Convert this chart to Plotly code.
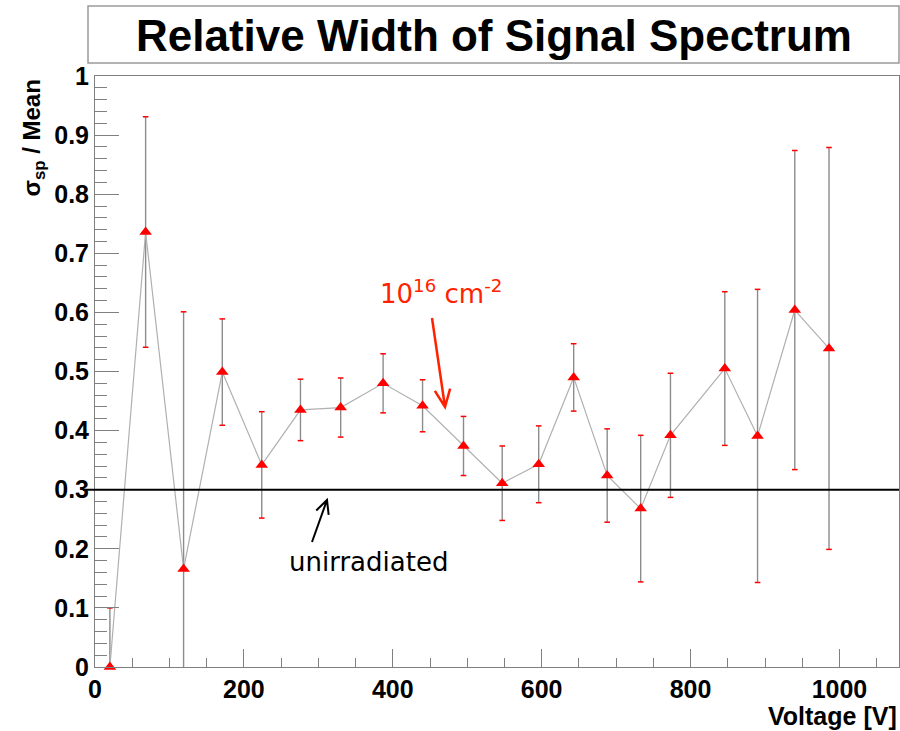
import math
import plotly.graph_objects as go

# ---------------- data ----------------
voltage = [20, 68, 119, 171, 224, 276, 330, 387, 440, 495, 547, 596, 643, 688, 733, 773, 846, 890, 940, 986]
rel_width = [0.0, 0.736, 0.166, 0.499, 0.342, 0.435, 0.439, 0.480, 0.442, 0.374,
             0.311, 0.343, 0.490, 0.324, 0.268, 0.392, 0.505, 0.391, 0.604, 0.539]
rel_err = [0.10, 0.195, 0.435, 0.090, 0.090, 0.052, 0.050, 0.050, 0.044, 0.050,
           0.063, 0.065, 0.057, 0.079, 0.124, 0.105, 0.130, 0.248, 0.270, 0.340]
unirradiated_level = 0.3

x_ticks = [0, 200, 400, 600, 800, 1000]
y_ticks = [0, 0.1, 0.2, 0.3, 0.4, 0.5, 0.6, 0.7, 0.8, 0.9, 1]
y_tick_text = ["0", "0.1", "0.2", "0.3", "0.4", "0.5", "0.6", "0.7", "0.8", "0.9", "1"]

# ---------------- layout geometry ----------------
W, H = 900, 731
ML, MR, MT, MB = 95, 1, 76, 64
PW, PH = W - ML - MR, H - MT - MB
XR = [0, 1080]
YR = [0, 1]


def px2x(px):
    return (px - ML) / PW * (XR[1] - XR[0]) + XR[0]


def py2y(py):
    return (MT + PH - py) / PH * (YR[1] - YR[0]) + YR[0]


def arrow_path(tail, tip, wing=18, ang=24):
    (x0, y0), (x1, y1) = tail, tip
    dx, dy = x0 - x1, y0 - y1
    L = math.hypot(dx, dy)
    ux, uy = dx / L, dy / L
    pts = []
    for s in (-1, 1):
        a = math.radians(ang) * s
        wx = ux * math.cos(a) - uy * math.sin(a)
        wy = ux * math.sin(a) + uy * math.cos(a)
        pts.append((x1 + wx * wing, y1 + wy * wing))

    def P(p):
        return f"{px2x(p[0])},{py2y(p[1])}"
    return f"M {P(tail)} L {P(tip)} M {P(pts[0])} L {P(tip)} L {P(pts[1])}"


fig = go.Figure()

# connecting line + error bars
fig.add_trace(go.Scatter(
    x=voltage, y=rel_width, mode="lines",
    line=dict(color="#b0b0b0", width=1.2),
    error_y=dict(type="data", array=rel_err, visible=True, color="#8c8c8c",
                 thickness=1.4, width=0),
    showlegend=False, hoverinfo="skip"))

# red caps of error bars
cap_x = voltage + voltage
cap_y = [v + e for v, e in zip(rel_width, rel_err)] + [v - e for v, e in zip(rel_width, rel_err)]
fig.add_trace(go.Scatter(
    x=cap_x, y=cap_y, mode="markers",
    marker=dict(symbol="line-ew", size=4, line=dict(color="red", width=1.5)),
    showlegend=False, hoverinfo="skip"))

# markers
fig.add_trace(go.Scatter(
    x=voltage, y=rel_width, mode="markers",
    marker=dict(symbol="triangle-up", size=11, color="red", line=dict(width=0)),
    showlegend=False, cliponaxis=False))

FAM = "Liberation Sans, Arial, sans-serif"
tick_font = dict(family=FAM, size=25, color="black", weight="bold")

fig.update_layout(
    width=W, height=H,
    margin=dict(l=ML, r=MR, t=MT, b=MB, pad=0),
    paper_bgcolor="white", plot_bgcolor="white",
    xaxis=dict(range=XR, tickvals=x_ticks, ticktext=[str(v) for v in x_ticks],
               ticks="inside", ticklen=18, tickwidth=1, tickcolor="#808080",
               minor=dict(dtick=50, ticks="inside", ticklen=9, tickcolor="#808080", tickwidth=1),
               showline=True, linecolor="#808080", linewidth=1, mirror=True,
               showgrid=False, zeroline=False, tickfont=tick_font),
    yaxis=dict(range=YR, tickvals=y_ticks, ticktext=y_tick_text,
               ticks="inside", ticklen=24, tickwidth=1, tickcolor="#808080",
               minor=dict(dtick=0.02, ticks="inside", ticklen=12, tickcolor="#808080", tickwidth=1),
               showline=True, linecolor="#808080", linewidth=1, mirror=True,
               showgrid=False, zeroline=False, tickfont=tick_font),
)

shapes = []
# title box
shapes.append(dict(type="rect", xref="paper", yref="paper",
                   x0=(88 - ML) / PW, x1=(899 - ML) / PW,
                   y0=(MT + PH - 63) / PH, y1=(MT + PH - 6) / PH,
                   line=dict(color="#9a9a9a", width=1.5), fillcolor="white", layer="above"))
# unirradiated level
shapes.append(dict(type="line", xref="paper", yref="y", x0=-12 / PW, x1=1,
                   y0=unirradiated_level, y1=unirradiated_level,
                   line=dict(color="black", width=2)))
# arrows
shapes.append(dict(type="path", xref="x", yref="y",
                   path=arrow_path((432, 318), (445, 407), wing=19, ang=24),
                   line=dict(color="#ff2200", width=2.5)))
shapes.append(dict(type="path", xref="x", yref="y",
                   path=arrow_path((312, 542), (327, 500), wing=15, ang=26),
                   line=dict(color="black", width=2)))
fig.update_layout(shapes=shapes)

ann = []
ann.append(dict(text="<b>Relative Width of Signal Spectrum</b>", xref="paper", yref="paper",
                x=(494 - ML) / PW, y=(MT + PH - 36) / PH, xanchor="center", yanchor="middle",
                showarrow=False, font=dict(family=FAM, size=44, color="black")))
ann.append(dict(text="<b>σ<sub>sp</sub> / Mean</b>", xref="paper", yref="paper",
                x=(33 - ML) / PW, y=(MT + PH - 78) / PH, xanchor="center", yanchor="top", textangle=-90,
                showarrow=False, font=dict(family=FAM, size=24, color="black")))
ann.append(dict(text="<b>Voltage [V]</b>", xref="paper", yref="paper",
                x=1.0, y=-(716 - MT - PH) / PH, xanchor="right", yanchor="middle",
                showarrow=False, font=dict(family=FAM, size=25, color="black")))
ann.append(dict(text="10<sup>16</sup> cm<sup>-2</sup>", xref="x", yref="y",
                x=px2x(378), y=py2y(292), xanchor="left", yanchor="middle",
                showarrow=False, font=dict(family="DejaVu Sans, sans-serif", size=26, color="#ff2200")))
ann.append(dict(text="unirradiated", xref="x", yref="y",
                x=px2x(287), y=py2y(562), xanchor="left", yanchor="middle",
                showarrow=False, font=dict(family="DejaVu Sans, sans-serif", size=26, color="black")))
fig.update_layout(annotations=ann)

fig.write_html("out.html")
